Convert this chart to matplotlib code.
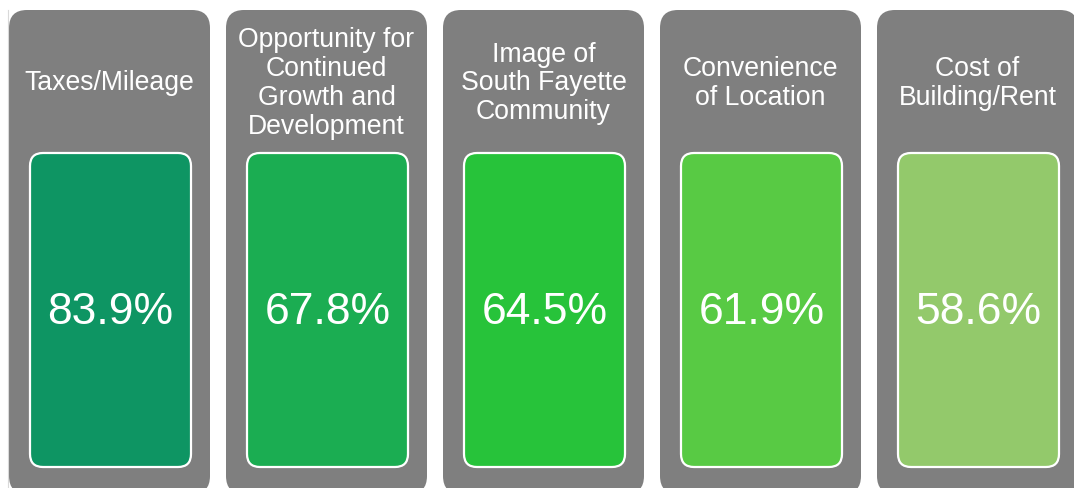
import matplotlib.pyplot as plt
from matplotlib.patches import FancyBboxPatch

# chart values
categories = [
    "Taxes/Mileage",
    "Opportunity for\nContinued\nGrowth and\nDevelopment",
    "Image of\nSouth Fayette\nCommunity",
    "Convenience\nof Location",
    "Cost of\nBuilding/Rent",
]
values = [83.9, 67.8, 64.5, 61.9, 58.6]
box_colors = ["#0e9563", "#1bad52", "#27c33a", "#58ca44", "#93c96b"]

grey = "#7f7f7f"
font = ["Liberation Sans", "DejaVu Sans"]

fig = plt.figure(figsize=(10.74, 4.88), dpi=100)
ax = fig.add_axes([0, 0, 1, 1])
ax.set_xlim(0, 1074)
ax.set_ylim(488, 0)
ax.axis("off")

# faint edge line on the left
ax.plot([8, 8], [10, 488], color="#d9d9d9", lw=0.8)

pitch = 217
card_w = 201
for i, (cat, val, col) in enumerate(zip(categories, values, box_colors)):
    left = 9 + i * pitch
    # grey card
    ax.add_patch(FancyBboxPatch((left, 10), card_w, 484,
                                boxstyle="round,pad=0,rounding_size=18",
                                fc=grey, ec="none"))
    # green value box
    ax.add_patch(FancyBboxPatch((left + 21, 153), 161, 314,
                                boxstyle="round,pad=0,rounding_size=13",
                                fc=col, ec="white", lw=1.6))
    ax.text(left + card_w / 2, 83.5, cat, ha="center", va="center",
            color="white", fontsize=19.2, family=font, linespacing=1.14)
    ax.text(left + 21 + 161 / 2, 312, f"{val:.1f}%", ha="center", va="center",
            color="white", fontsize=32, family=font)

fig.savefig("out.png", dpi=100)
